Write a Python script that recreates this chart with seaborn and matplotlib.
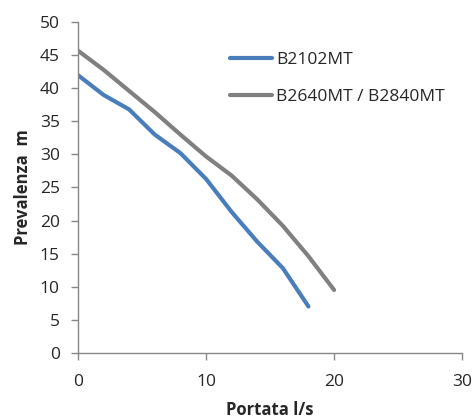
import matplotlib
matplotlib.use("Agg")
import matplotlib.pyplot as plt
import seaborn as sns
import pandas as pd

# Flow (l/s) and head (m)
flow_b2102 = [0, 2, 4, 6, 8, 10, 12, 14, 16, 18]
head_b2102 = [42, 39, 36.8, 33, 30.2, 26.3, 21.3, 16.8, 12.8, 7]

flow_b2640 = [0, 2, 4, 6, 8, 10, 12, 14, 16, 18, 20]
head_b2640 = [45.7, 42.8, 39.6, 36.4, 33, 29.7, 26.8, 23.2, 19.2, 14.6, 9.5]

series_names = ["B2102MT", "B2640MT / B2840MT"]
colors = ["#4a7ebb", "#808080"]

df = pd.concat([
    pd.DataFrame({"Portata": flow_b2102, "Prevalenza": head_b2102, "serie": series_names[0]}),
    pd.DataFrame({"Portata": flow_b2640, "Prevalenza": head_b2640, "serie": series_names[1]}),
])

sns.set_style("white")
plt.rcParams["font.family"] = ["Open Sans", "DejaVu Sans"]

fig = plt.figure(figsize=(4.75, 4.18), dpi=100)
ax = fig.add_axes([0.164, 0.156, 0.809, 0.791])

sns.lineplot(data=df, x="Portata", y="Prevalenza", hue="serie",
             palette=colors, linewidth=3, ax=ax, sort=False)

ax.set_xlim(0, 30)
ax.set_ylim(0, 50)
ax.set_xticks([0, 10, 20, 30])
ax.set_yticks(range(0, 51, 5))
ax.set_xlabel("Portata l/s", fontsize=12, fontweight="bold", labelpad=8)
ax.set_ylabel("Prevalenza  m", fontsize=12, fontweight="bold", labelpad=6)
ax.tick_params(axis="both", labelsize=12.5, length=5, width=1, color="#888888",
               direction="out", pad=8)
ax.tick_params(axis="x", pad=10)
for side in ["top", "right"]:
    ax.spines[side].set_visible(False)
for side in ["left", "bottom"]:
    ax.spines[side].set_color("#888888")
    ax.spines[side].set_linewidth(1)
ax.yaxis.set_ticks_position("left")
ax.xaxis.set_ticks_position("bottom")

leg = ax.legend(loc="upper left", bbox_to_anchor=(0.396, 0.91), frameon=False,
                fontsize=12.5, handlelength=2.4, handletextpad=0.25,
                labelspacing=1.2, borderpad=0, borderaxespad=0)

fig.savefig("out.png", dpi=100)
